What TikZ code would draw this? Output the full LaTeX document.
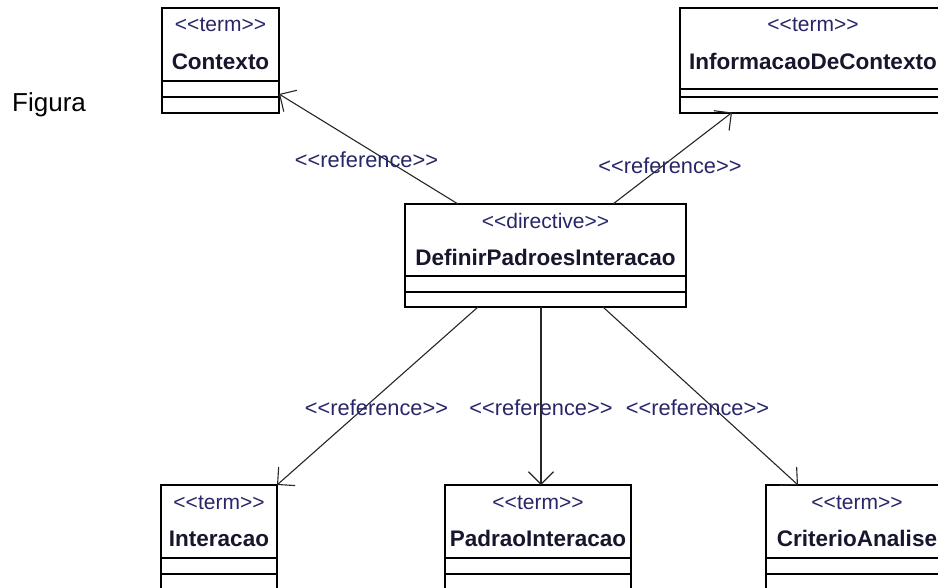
\documentclass[tikz,border=0pt]{standalone}
\usepackage{fontspec}
\setmainfont{Liberation Sans}
\usetikzlibrary{arrows.meta}
\definecolor{stereoink}{RGB}{38,38,105}
\definecolor{nameink}{RGB}{22,22,45}

% two horizontal compartment lines, given as offsets below the top edge of a class box
\newcommand\classseps[3]{%
  \draw[boxline] ([yshift=-#2pt]#1.north west) -- ([yshift=-#2pt]#1.north east);
  \draw[boxline] ([yshift=-#3pt]#1.north west) -- ([yshift=-#3pt]#1.north east);
}
% stereotype and class name inside a class box
\newcommand\classtext[3]{%
  \node[stereotxt] (#1-st) at ([yshift=-24pt]#1.north) {{<}{<}#2{>}{>}};
  \node[nametxt] (#1-nm) at ([yshift=-61.5pt]#1.north) {#3};
}

\begin{document}
\begin{tikzpicture}[x=1pt,y=-1pt,
  boxline/.style={line width=2pt, draw=black},
  classbox/.style={boxline, rectangle, inner sep=0pt, outer sep=0pt, anchor=north west, fill=white},
  stereotxt/.style={anchor=base, inner sep=0pt, font=\fontsize{21}{25}\selectfont, text=stereoink},
  nametxt/.style={anchor=base, inner sep=0pt, font=\fontsize{22.5}{27}\selectfont\bfseries, text=nameink},
  reftxt/.style={anchor=base, inner sep=0pt, font=\fontsize{21.8}{26}\selectfont, text=stereoink},
  refline/.style={line width=1.1pt, draw=black!85, -{Straight Barb[length=12.5pt,width=25pt]}},
]
\useasboundingbox (0,0) rectangle (938,587);
\clip (0,0) rectangle (938,587);

% caption on the left
\node[anchor=base west, inner sep=0pt, font=\fontsize{26}{30}\selectfont] (fig) at (12,111) {Figura};

% class boxes
\node[classbox, minimum width=117pt, minimum height=105pt] (ctx) at (162,7.5) {};
\node[classbox, minimum width=266pt, minimum height=105pt] (info) at (680,7.5) {};
\node[classbox, minimum width=281pt, minimum height=103pt] (defpi) at (405,204) {};
\node[classbox, minimum width=116pt, minimum height=150pt] (inter) at (161,485) {};
\node[classbox, minimum width=186pt, minimum height=150pt] (padrao) at (445,485) {};
\node[classbox, minimum width=182pt, minimum height=150pt] (crit) at (766,485) {};

\classseps{ctx}{73}{89.3}
\classseps{info}{81.5}{89.3}
\classseps{defpi}{72}{88}
\classseps{inter}{73}{88.5}
\classseps{padrao}{73}{88.5}
\classseps{crit}{73}{88.5}

\classtext{ctx}{term}{Contexto}
\classtext{info}{term}{InformacaoDeContexto}
\classtext{defpi}{directive}{DefinirPadroesInteracao}
\classtext{inter}{term}{Interacao}
\classtext{padrao}{term}{PadraoInteracao}
\classtext{crit}{term}{CriterioAnalise}

% dependencies
\draw[refline] ([xshift=53pt]defpi.north west) -- ([yshift=18.5pt]ctx.south east);
\draw[refline] ([xshift=208pt]defpi.north west) -- ([xshift=52pt]info.south west);
\draw[refline] ([xshift=73pt]defpi.south west) -- (inter.north east);
\draw[refline] ([xshift=136pt]defpi.south west) -- ([xshift=96pt]padrao.north west);
\draw[refline] ([xshift=198pt]defpi.south west) -- ([xshift=32pt]crit.north west);

% dependency labels
\node[reftxt] (r1) at (366.5,167) {{<}{<}reference{>}{>}};
\node[reftxt] (r2) at (670,173) {{<}{<}reference{>}{>}};
\node[reftxt] (r3) at (376.5,415) {{<}{<}reference{>}{>}};
\node[reftxt] (r4) at (541,415) {{<}{<}reference{>}{>}};
\node[reftxt] (r5) at (697.5,415) {{<}{<}reference{>}{>}};
\end{tikzpicture}
\end{document}
